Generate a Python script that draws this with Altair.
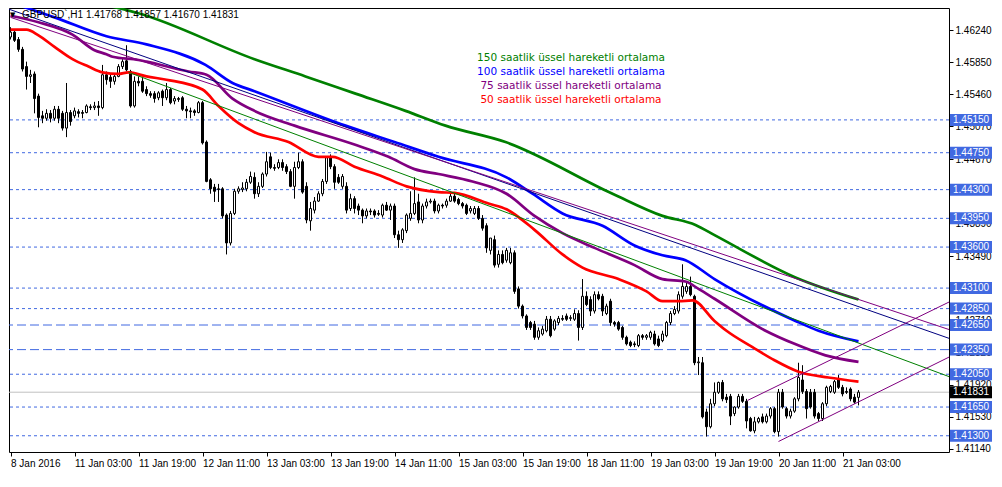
import altair as alt
import pandas as pd

# ---------------- data ----------------
opens = [1.4616,1.4622,1.4613,1.4601,1.4580,1.4568,1.4571,1.4544,1.4520,1.4517,
1.4523,1.4517,1.4528,1.4523,1.4505,1.4524,1.4520,1.4525,1.4524,1.4524,
1.4531,1.4530,1.4532,1.4530,1.4570,1.4567,1.4562,1.4568,1.4580,1.4587,
1.4574,1.4532,1.4562,1.4562,1.4552,1.4547,1.4547,1.4542,1.4550,1.4542,
1.4552,1.4538,1.4541,1.4542,1.4528,1.4526,1.4526,1.4524,1.4536,1.4488,
1.4442,1.4433,1.4431,1.4431,1.4399,1.4365,1.4401,1.4428,1.4430,1.4431,
1.4439,1.4445,1.4425,1.4434,1.4449,1.4470,1.4457,1.4457,1.4463,1.4458,
1.4452,1.4434,1.4457,1.4464,1.4434,1.4392,1.4405,1.4416,1.4425,1.4440,
1.4469,1.4458,1.4445,1.4434,1.4434,1.4407,1.4419,1.4410,1.4405,1.4398,
1.4404,1.4404,1.4401,1.4399,1.4411,1.4405,1.4410,1.4375,1.4369,1.4380,
1.4395,1.4401,1.4415,1.4393,1.4410,1.4415,1.4416,1.4404,1.4411,1.4411,
1.4416,1.4422,1.4418,1.4413,1.4411,1.4404,1.4401,1.4407,1.4395,1.4386,
1.4356,1.4369,1.4339,1.4351,1.4344,1.4341,1.4353,1.4309,1.4288,1.4276,
1.4268,1.4266,1.4250,1.4254,1.4258,1.4272,1.4260,1.4268,1.4273,1.4276,
1.4273,1.4272,1.4279,1.4262,1.4300,1.4296,1.4282,1.4302,1.4300,1.4279,
1.4294,1.4268,1.4268,1.4262,1.4250,1.4244,1.4242,1.4240,1.4252,1.4250,
1.4250,1.4254,1.4248,1.4246,1.4252,1.4268,1.4279,1.4282,1.4300,1.4306,
1.4312,1.4300,1.4219,1.4219,1.4159,1.4141,1.4169,1.4183,1.4195,1.4177,
1.4178,1.4157,1.4165,1.4178,1.4172,1.4151,1.4136,1.4147,1.4153,1.4147,
1.4154,1.4163,1.4135,1.4183,1.4163,1.4154,1.4160,1.4175,1.4198,1.4184,
1.4183,1.4183,1.4157,1.4151,1.4169,1.4184,1.4183,1.4198,1.4189,1.4184,
1.4187,1.4177,1.41768]

highs = [1.4628,1.4624,1.4616,1.4604,1.4586,1.4576,1.4574,1.4547,1.4526,1.4528,
1.4527,1.4532,1.4532,1.4526,1.4560,1.4527,1.4530,1.4528,1.4527,1.4534,
1.4534,1.4537,1.4538,1.4582,1.4574,1.4570,1.4571,1.4583,1.4589,1.4606,
1.4576,1.4568,1.4568,1.4566,1.4556,1.4550,1.4550,1.4550,1.4552,1.4560,
1.4554,1.4544,1.4543,1.4544,1.4532,1.4530,1.4528,1.4538,1.4538,1.4490,
1.4444,1.4437,1.4437,1.4433,1.4401,1.4404,1.4431,1.4434,1.4439,1.4443,
1.4452,1.4451,1.4439,1.4451,1.4476,1.4475,1.4461,1.4467,1.4467,1.4461,
1.4455,1.4464,1.4475,1.4467,1.4439,1.4415,1.4421,1.4428,1.4443,1.4470,
1.4473,1.4461,1.4449,1.4449,1.4439,1.4425,1.4422,1.4413,1.4407,1.4407,
1.4407,1.4406,1.4405,1.4413,1.4415,1.4413,1.4413,1.4380,1.4383,1.4401,
1.4428,1.4445,1.4425,1.4413,1.4419,1.4419,1.4419,1.4413,1.4413,1.4419,
1.4425,1.4426,1.4420,1.4415,1.4413,1.4410,1.4410,1.4410,1.4399,1.4389,
1.4371,1.4374,1.4356,1.4356,1.4359,1.4359,1.4356,1.4312,1.4290,1.4278,
1.4270,1.4270,1.4262,1.4264,1.4276,1.4276,1.4272,1.4276,1.4277,1.4279,
1.4277,1.4284,1.4283,1.4321,1.4306,1.4300,1.4306,1.4306,1.4303,1.4291,
1.4297,1.4270,1.4270,1.4264,1.4252,1.4246,1.4245,1.4254,1.4254,1.4254,
1.4258,1.4258,1.4252,1.4258,1.4270,1.4282,1.4288,1.4306,1.4339,1.4318,
1.4324,1.4302,1.4226,1.4226,1.4163,1.4175,1.4195,1.4196,1.4198,1.4181,
1.4181,1.4166,1.4181,1.4181,1.4175,1.4153,1.4153,1.4153,1.4157,1.4157,
1.4165,1.4165,1.4187,1.4187,1.4165,1.4163,1.4177,1.4219,1.4216,1.4187,
1.4187,1.4187,1.4159,1.4171,1.4191,1.4192,1.4198,1.4204,1.4192,1.4189,
1.4189,1.4181,1.41857]

lows = [1.4613,1.4610,1.4598,1.4574,1.4552,1.4560,1.4523,1.4506,1.4511,1.4514,
1.4512,1.4514,1.4511,1.4502,1.4494,1.4508,1.4517,1.4518,1.4517,1.4523,
1.4527,1.4527,1.4520,1.4528,1.4558,1.4554,1.4558,1.4567,1.4577,1.4574,
1.4530,1.4530,1.4556,1.4548,1.4544,1.4542,1.4536,1.4539,1.4532,1.4539,
1.4534,1.4534,1.4537,1.4526,1.4517,1.4517,1.4520,1.4523,1.4485,1.4439,
1.4425,1.4415,1.4415,1.4395,1.4351,1.4362,1.4399,1.4425,1.4427,1.4428,
1.4437,1.4419,1.4421,1.4432,1.4446,1.4455,1.4453,1.4455,1.4453,1.4449,
1.4433,1.4419,1.4455,1.4425,1.4389,1.4380,1.4401,1.4415,1.4422,1.4437,
1.4455,1.4431,1.4437,1.4431,1.4401,1.4404,1.4401,1.4399,1.4389,1.4395,
1.4399,1.4396,1.4398,1.4396,1.4404,1.4393,1.4371,1.4359,1.4365,1.4377,
1.4392,1.4399,1.4389,1.4389,1.4407,1.4413,1.4401,1.4401,1.4407,1.4408,
1.4415,1.4414,1.4411,1.4407,1.4399,1.4401,1.4399,1.4393,1.4380,1.4353,
1.4351,1.4335,1.4335,1.4339,1.4341,1.4339,1.4303,1.4285,1.4273,1.4259,
1.4259,1.4247,1.4247,1.4252,1.4256,1.4250,1.4258,1.4265,1.4270,1.4270,
1.4270,1.4270,1.4246,1.4259,1.4288,1.4276,1.4279,1.4295,1.4276,1.4277,
1.4264,1.4263,1.4258,1.4247,1.4240,1.4238,1.4238,1.4238,1.4247,1.4247,
1.4247,1.4240,1.4238,1.4244,1.4250,1.4265,1.4277,1.4279,1.4297,1.4303,
1.4300,1.4216,1.4204,1.4151,1.4129,1.4139,1.4166,1.4181,1.4172,1.4170,
1.4143,1.4154,1.4163,1.4170,1.4139,1.4135,1.4133,1.4145,1.4145,1.4145,
1.4151,1.4133,1.4129,1.4163,1.4151,1.4151,1.4158,1.4172,1.4181,1.4151,
1.4163,1.4151,1.4148,1.4148,1.4166,1.4182,1.4181,1.4187,1.4178,1.4181,
1.4172,1.4169,1.41670]

closes = [1.4622,1.4612,1.4601,1.4577,1.4568,1.4570,1.4541,1.4518,1.4517,1.4523,
1.4517,1.4528,1.4517,1.4505,1.4524,1.4513,1.4526,1.4523,1.4523,1.4532,
1.4530,1.4532,1.4530,1.4570,1.4564,1.4562,1.4568,1.4580,1.4586,1.4576,
1.4532,1.4562,1.4560,1.4550,1.4547,1.4545,1.4541,1.4548,1.4542,1.4552,
1.4536,1.4541,1.4540,1.4528,1.4526,1.4525,1.4524,1.4536,1.4487,1.4440,
1.4431,1.4428,1.4430,1.4398,1.4365,1.4401,1.4428,1.4431,1.4432,1.4439,
1.4446,1.4425,1.4434,1.4449,1.4464,1.4457,1.4456,1.4463,1.4457,1.4452,
1.4434,1.4457,1.4464,1.4427,1.4393,1.4407,1.4416,1.4425,1.4440,1.4469,
1.4458,1.4439,1.4439,1.4446,1.4405,1.4419,1.4407,1.4405,1.4398,1.4404,
1.4403,1.4399,1.4400,1.4411,1.4405,1.4410,1.4375,1.4369,1.4381,1.4399,
1.4401,1.4413,1.4393,1.4410,1.4415,1.4416,1.4404,1.4411,1.4410,1.4416,
1.4422,1.4416,1.4413,1.4410,1.4401,1.4407,1.4407,1.4395,1.4383,1.4359,
1.4371,1.4338,1.4351,1.4341,1.4356,1.4353,1.4306,1.4288,1.4276,1.4262,
1.4262,1.4250,1.4258,1.4260,1.4272,1.4252,1.4270,1.4273,1.4272,1.4272,
1.4274,1.4279,1.4262,1.4300,1.4290,1.4282,1.4302,1.4297,1.4282,1.4288,
1.4268,1.4266,1.4260,1.4250,1.4242,1.4240,1.4241,1.4252,1.4250,1.4252,
1.4256,1.4242,1.4240,1.4254,1.4268,1.4279,1.4284,1.4302,1.4312,1.4312,
1.4302,1.4219,1.4220,1.4153,1.4141,1.4169,1.4183,1.4195,1.4175,1.4174,
1.4154,1.4165,1.4178,1.4172,1.4148,1.4136,1.4147,1.4151,1.4147,1.4154,
1.4163,1.4135,1.4183,1.4165,1.4154,1.4160,1.4175,1.4201,1.4184,1.4163,
1.4165,1.4154,1.4151,1.4169,1.4189,1.4190,1.4196,1.4189,1.4181,1.4183,
1.4175,1.4171,1.41831]

bar_index = list(range(len(opens)))

x_tick_values = [0, 16, 32, 48, 64, 80, 96, 112, 128, 144, 160, 176, 192, 208]
x_tick_labels = ["8 Jan 2016", "11 Jan 03:00", "11 Jan 19:00", "12 Jan 11:00",
                 "13 Jan 03:00", "13 Jan 19:00", "14 Jan 11:00", "15 Jan 03:00",
                 "15 Jan 19:00", "18 Jan 11:00", "19 Jan 03:00", "19 Jan 19:00",
                 "20 Jan 11:00", "21 Jan 03:00"]
y_tick_values = [1.4624, 1.4585, 1.4546, 1.4507, 1.4467, 1.4428, 1.4389,
                 1.4349, 1.4310, 1.4271, 1.4232, 1.4192, 1.4153, 1.4114]

levels = [1.4515, 1.4475, 1.4430, 1.4395, 1.4360, 1.4310, 1.4285,
          1.4265, 1.4235, 1.4205, 1.4165, 1.4130]
level_styles = ["short"] * 7 + ["long", "long"] + ["short"] * 3
current_price = 1.41831

ema50_idx = [0,4,7,11,15.5,19.5,23,27,29.5,34,39,48,52,57,61,69.5,77,80.5,86,93,99,107,111,
             119.5,124,131,138,143,152,159,163,167,170.5,176,179,185.5,191,197,204.5,212]
ema50_val = [1.4625,1.4625,1.4618,1.4604,1.4589,1.4580,1.4573,1.4571,1.4573,1.4568,1.4564,
             1.4552,1.4532,1.4511,1.4500,1.4488,1.4470,1.4470,1.4458,1.4446,1.4434,1.4427,
             1.4426,1.4413,1.4406,1.4381,1.4351,1.4335,1.4321,1.4306,1.4294,1.4294,1.4295,
             1.4270,1.4258,1.4238,1.4222,1.4208,1.4201,1.4196]
ema75_idx = [0,7,15.5,21,24,25.5,32,34,44.5,49,55.5,61,71,86,94.5,101,107,115.5,124,131,138,
             146,156,163,168.75,172,176,188.75,196,203.75,212]
ema75_val = [1.4642,1.4634,1.4619,1.4600,1.4595,1.4592,1.4588,1.4586,1.4574,1.4570,1.4541,
             1.4526,1.4508,1.4485,1.4470,1.4455,1.4449,1.4440,1.4425,1.4398,1.4377,1.4359,
             1.4338,1.4321,1.4318,1.4309,1.4297,1.4258,1.4242,1.4228,1.4220]
ema100_idx = [0,11,24,34,48.75,55.5,61,83.75,96,107,124,130.5,138,148,156,163,168.75,176,
              196.25,202,212]
ema100_val = [1.4658,1.4640,1.4617,1.4607,1.4582,1.4560,1.4550,1.4508,1.4488,1.4470,1.4445,
              1.4425,1.4401,1.4386,1.4362,1.4350,1.4344,1.4321,1.4270,1.4258,1.4245]
ema150_idx = [10,20,32,61,73.75,86.25,98.75,108.75,123.75,150.5,163,171.25,176.25,196.25,212]
ema150_val = [1.4670,1.4659,1.4645,1.4589,1.4568,1.4547,1.4526,1.4508,1.4488,1.4425,1.4398,
              1.4387,1.4374,1.4323,1.4296]

trend_names = ["navy", "purple", "green", "ch_up", "ch_lo"]
trend_idx = [[-1, 238], [0, 238], [29.5, 238], [184.25, 238], [192, 238]]
trend_val = [[1.4651, 1.4243], [1.4640, 1.4254], [1.4573, 1.4196],
             [1.4173, 1.4301], [1.4123, 1.4234]]

header_text = "GBPUSD`,H1  1.41768 1.41857 1.41670 1.41831"
legend_lines = ["150 saatlik üssel hareketli ortalama",
                "100 saatlik üssel hareketli ortalama",
                "75 saatlik üssel hareketli ortalama",
                "50 saatlik üssel hareketli ortalama"]

# ---------------- styling ----------------
W, H = 940, 444
FONT = "Liberation Sans"
LEG_FONT = "DejaVu Sans"
LEVEL_BLUE = "#4169E1"
legend_colors = ["#008000", "#0000FF", "#800080", "#FF0000"]
legend_y = [50, 64, 78, 92]
ema_colors = {"e150": "#008000", "e100": "#0000FF", "e75": "#800080", "e50": "#FF0000"}
trend_colors = {"navy": "#000080", "purple": "#800080", "green": "#008000",
                "ch_up": "#800080", "ch_lo": "#800080"}

xs = alt.Scale(domain=[-0.375, -0.375 + W / 4], nice=False, zero=False, padding=0)
ys = alt.Scale(domain=[1.41102, 1.46514], nice=False, zero=False, padding=0)

label_expr = "[" + ",".join("'" + s + "'" for s in x_tick_labels) + "][round(datum.value/16)]"
x_axis = alt.Axis(values=x_tick_values, labelExpr=label_expr, tickSize=4, labelAlign="left",
                  labelPadding=2, domain=False, grid=False, title=None, labelFont=FONT,
                  labelFontSize=10, labelColor="black", tickColor="black",
                  labelOverlap=False, labelFlush=False)
y_axis = alt.Axis(values=y_tick_values, format=".5f", orient="right", tickSize=4,
                  labelPadding=2, domain=False, grid=False, title=None, labelFont=FONT,
                  labelFontSize=10, labelColor="black", tickColor="black",
                  labelOverlap=False, labelFlush=False)


def X(f):
    return alt.X(f, type="quantitative", scale=xs, axis=x_axis)


def Y(f):
    return alt.Y(f, type="quantitative", scale=ys, axis=y_axis)


candles = pd.DataFrame({"i": bar_index, "o": opens, "h": highs, "l": lows, "c": closes})
lv = pd.DataFrame({"p": levels, "style": level_styles,
                   "label": ["%.5f" % v for v in levels]})
cur = pd.DataFrame({"p": [current_price], "label": ["%.5f" % current_price]})

ema_rows = []
for name, ii, vv in [("e150", ema150_idx, ema150_val), ("e100", ema100_idx, ema100_val),
                     ("e75", ema75_idx, ema75_val), ("e50", ema50_idx, ema50_val)]:
    for a, b in zip(ii, vv):
        ema_rows.append({"s": name, "i": a, "p": b})
ema_df = pd.DataFrame(ema_rows)

tr_rows = []
for name, ii, vv in zip(trend_names, trend_idx, trend_val):
    for a, b in zip(ii, vv):
        tr_rows.append({"s": name, "i": a, "p": b})
tr_df = pd.DataFrame(tr_rows)

level_rules = alt.Chart(lv).mark_rule(color=LEVEL_BLUE, strokeWidth=1).encode(
    y=Y("p"),
    strokeDash=alt.StrokeDash("style:N", scale=alt.Scale(domain=["short", "long"],
                                                         range=[[3, 3], [9, 4]]), legend=None),
)
cur_rule = alt.Chart(cur).mark_rule(color="#C0C0C0", strokeWidth=1).encode(y=Y("p"))

wicks = alt.Chart(candles).mark_rule(color="black", strokeWidth=1).encode(
    x=X("i"), y=Y("l"), y2="h:Q")
bodies = alt.Chart(candles).mark_bar(size=2, stroke="black", strokeWidth=1).encode(
    x=X("i"), y=Y("o"), y2="c:Q",
    fill=alt.condition("datum.c > datum.o", alt.value("white"), alt.value("black")))

emas = alt.Chart(ema_df).mark_line(strokeWidth=2.7, clip=True, interpolate="monotone").encode(
    x=X("i"), y=Y("p"), detail="s:N",
    color=alt.Color("s:N", scale=alt.Scale(domain=list(ema_colors.keys()),
                                           range=list(ema_colors.values())), legend=None))
trends = alt.Chart(tr_df).mark_line(strokeWidth=1, clip=True).encode(
    x=X("i"), y=Y("p"), detail="s:N",
    color=alt.Color("s:N", scale=alt.Scale(domain=list(trend_colors.keys()),
                                           range=list(trend_colors.values())), legend=None))

boxes = alt.Chart(lv).mark_tick(orient="horizontal", size=42, thickness=12,
                                color=LEVEL_BLUE, opacity=1).encode(
    x=alt.value(W + 22), y=Y("p"))
box_text = alt.Chart(lv).mark_text(align="left", baseline="middle", color="white",
                                   font=FONT, fontSize=10).encode(
    x=alt.value(W + 4), y=Y("p"), text="label:N")
cur_box = alt.Chart(cur).mark_tick(orient="horizontal", size=42, thickness=12,
                                   color="black", opacity=1).encode(
    x=alt.value(W + 22), y=Y("p"))
cur_text = alt.Chart(cur).mark_text(align="left", baseline="middle", color="white",
                                    font=FONT, fontSize=10).encode(
    x=alt.value(W + 4), y=Y("p"), text="label:N")

header = alt.Chart(pd.DataFrame({"t": [header_text]})).mark_text(
    align="left", baseline="middle", font=FONT, fontSize=10, color="black").encode(
    x=alt.value(13), y=alt.value(7), text="t:N")
tri = alt.Chart(pd.DataFrame({"t": ["▼"]})).mark_text(
    align="left", baseline="middle", font="DejaVu Sans", fontSize=7, color="black").encode(
    x=alt.value(1), y=alt.value(7), text="t:N")

legend_layers = []
for txt, col, yy in zip(legend_lines, legend_colors, legend_y):
    legend_layers.append(
        alt.Chart(pd.DataFrame({"t": [txt]})).mark_text(
            align="center", baseline="middle", font=LEG_FONT, fontSize=10.5, color=col).encode(
            x=alt.value(562), y=alt.value(yy), text="t:N"))

chart = alt.layer(
    level_rules, cur_rule, wicks, bodies, emas, trends,
    boxes, box_text, cur_box, cur_text, header, tri, *legend_layers
).resolve_scale(color="independent", strokeDash="independent").properties(
    width=W, height=H, padding=0, background="white"
).configure_view(stroke="black", strokeWidth=1)

chart.save("out.html", embed_options={"renderer": "svg", "actions": False})
